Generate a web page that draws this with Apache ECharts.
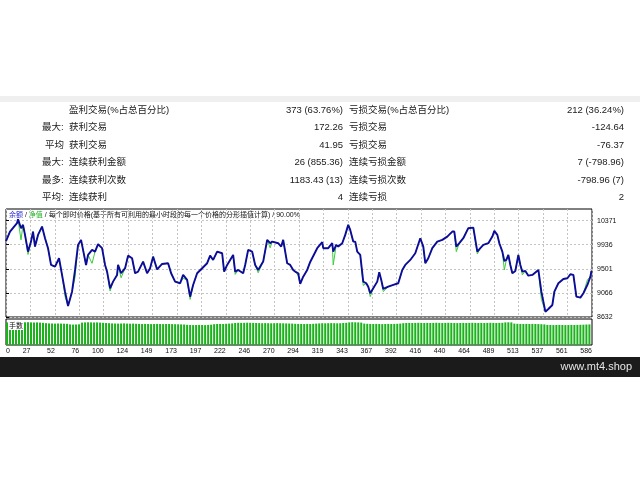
<!DOCTYPE html>
<html><head><meta charset="utf-8">
<script src="https://cdn.jsdelivr.net/npm/echarts@6/dist/echarts.min.js"></script>
<style>html,body{margin:0;padding:0;background:#fff;}#c{width:640px;height:480px;}</style>
</head><body><div id="c"></div>
<script>
// ---- data ----
const balTrades = [
0,4,11,12,15,17,19,22,25,27,
29,32,36,39,42,45,49,53,56,59,
62,66,69,72,75,77,80,82,86,89,
92,96,99,101,104,107,111,112,115,119,
122,126,129,132,137,141,144,147,151,156,
162,165,169,174,177,181,184,187,191,196,
201,204,207,211,216,218,221,224,227,229,
232,237,239,242,246,249,252,257,261,264,
266,272,275,277,279,281,284,287,289,292,
294,297,301,304,311,316,317,322,326,327,
330,332,336,339,342,344,347,349,351,354,
357,360,362,364,367,371,373,375,377,382,
387,392,396,399,404,409,414,417,419,422,
426,431,436,441,446,448,450,453,457,462,
467,471,474,477,482,486,488,491,493,496,
498,500,502,504,506,509,512,514,516,519,
522,526,532,535,539,542,546,548,552,557,
561,564,567,570,574,577,581,584,585];
const balValues = [
10000,10173,10324,10396,10234,10294,10113,9811,9992,10173,
9902,10113,10263,10053,9873,9571,9540,9692,9391,9089,
8831,9089,9481,9932,10023,9842,9571,9752,9842,9811,
9945,9873,9571,9450,9150,9270,9391,9571,9421,9512,
9739,9692,9421,9450,9631,9421,9512,9721,9490,9589,
9602,9421,9270,9241,9391,9300,8999,9210,9421,9512,
9602,9739,9661,9811,9782,9450,9571,9661,9752,9450,
9481,9421,9571,9842,9811,9571,9481,9631,10023,9963,
9992,9963,9902,10023,9811,9602,9571,9481,9450,9421,
9230,9360,9481,9625,9873,9981,9873,9873,9963,9811,
9932,9902,9963,10113,10294,10203,9992,9992,9811,9752,
9270,9241,9179,9060,9150,9270,9439,9300,9138,9179,
9210,9241,9481,9571,9661,9782,10053,9902,9602,9692,
9873,9992,10023,10082,10173,10173,9902,9963,10053,10234,
10245,9811,9873,9932,9963,10082,10185,10113,9963,9811,
9643,9661,9752,9571,9421,9463,9752,9571,9450,9463,
9378,9391,9481,9089,8728,8776,8849,9089,9241,9318,
9331,9403,9391,8999,8981,9060,9210,9360,9463];
const eqValues = [
10000,10173,10324,10396,10023,10294,10113,9760,9992,10173,
9902,10113,10263,10053,9873,9571,9540,9692,9391,9000,
8831,9089,9350,9932,10023,9842,9571,9752,9600,9811,
9945,9873,9571,9450,9100,9270,9391,9571,9340,9512,
9739,9692,9421,9450,9631,9421,9512,9721,9490,9589,
9602,9421,9270,9241,9330,9300,8950,9210,9421,9512,
9602,9739,9661,9811,9782,9450,9571,9661,9752,9400,
9481,9421,9571,9842,9811,9571,9430,9631,10023,9880,
9992,9963,9902,10023,9811,9602,9571,9481,9450,9380,
9230,9360,9481,9625,9873,9981,9873,9873,9963,9571,
9932,9902,9963,10113,10294,10203,9992,9992,9811,9752,
9200,9241,9179,9000,9150,9270,9439,9300,9090,9179,
9210,9241,9481,9571,9661,9782,10053,9902,9602,9692,
9873,9992,10023,10082,10173,10173,9811,9963,10053,10234,
10245,9770,9873,9932,9963,10082,10185,10113,9963,9811,
9481,9661,9752,9571,9421,9463,9752,9571,9391,9463,
9378,9391,9481,8950,8728,8776,8849,9089,9241,9318,
9331,9403,9391,8999,8981,9060,9300,9360,9463];
const volumes = [
0.226,0.227,0.226,0.228,0.227,0.226,0.227,0.228,0.226,0.225,0.226,0.224,0.222,
0.218,0.216,0.215,0.214,0.215,0.214,0.213,0.212,
0.206,0.204,0.205,0.207,
0.224,0.226,0.227,0.226,0.225,0.226,0.224,0.222,0.22,0.218,
0.216,0.215,0.214,0.215,0.216,0.214,0.213,0.214,0.212,0.211,
0.21,0.211,0.21,0.209,0.21,0.211,0.21,0.209,0.21,0.21,0.209,0.208,0.207,0.206,0.205,
0.202,0.2,0.199,0.2,0.201,0.2,0.199,0.201,0.203,
0.208,0.21,0.211,0.21,0.212,0.214,0.216,
0.22,0.222,0.221,0.222,0.223,0.222,0.221,0.22,0.219,
0.218,0.219,0.218,0.217,0.218,0.219,0.218,0.217,0.216,0.215,0.214,
0.212,0.211,0.21,0.21,0.211,0.21,0.212,0.214,0.216,
0.218,0.217,0.218,0.219,0.218,0.217,0.218,0.22,0.222,
0.226,0.228,0.227,0.226,0.224,
0.214,0.212,0.211,0.21,0.211,0.21,0.209,0.21,0.211,0.21,0.211,0.212,0.214,
0.218,0.22,0.221,0.22,0.221,0.222,0.221,0.22,0.221,0.22,0.221,0.222,0.221,0.22,0.221,0.222,0.221,
0.22,0.219,0.22,0.221,0.22,0.221,0.222,0.221,0.22,0.221,0.22,0.221,0.222,0.221,0.22,0.221,0.222,
0.226,0.227,0.226,
0.214,0.212,0.211,0.21,0.211,0.21,0.211,0.21,0.209,0.208,0.206,
0.201,0.2,0.199,0.2,0.201,0.2,0.199,0.2,0.201,0.2,0.201,0.202,0.203,
0.205,0.206];
const xTickLabels = ['0','27','52','76','100','124','149','173','197','222','246','270','294','319','343','367','392','416','440','464','489','513','537','561','586'];
const yTickValues = [8632,9066,9501,9936,10371];
const statPrefix = ['', '最大:', '平均', '最大:', '最多:', '平均:'];
const statNameL = ['盈利交易(%占总百分比)','获利交易','获利交易','连续获利金额','连续获利次数','连续获利'];
const statValL = ['373 (63.76%)','172.26','41.95','26 (855.36)','1183.43 (13)','4'];
const statNameR = ['亏损交易(%占总百分比)','亏损交易','亏损交易','连续亏损金额','连续亏损次数','连续亏损'];
const statValR = ['212 (36.24%)','-124.64','-76.37','7 (-798.96)','-798.96 (7)','2'];
const legendTxt = '{b|余额} / {g|净值} / 每个即时价格(基于所有可利用的最小时段的每一个价格的分形插值计算) / 90.00%';
const volLabel = '手数';
const siteTxt = 'www.mt4.shop';

// ---- chart ----
const FF = '"Liberation Sans","Noto Sans CJK SC",sans-serif';
const chart = echarts.init(document.getElementById('c'), null, {renderer:'canvas'});
const XI = 24.4, XMAX = 585.6;
const graphics = [
  {type:'rect', shape:{x:0,y:96,width:640,height:6}, style:{fill:'#efefef'}, silent:true},
  {type:'rect', shape:{x:0,y:357,width:640,height:20}, style:{fill:'#1b1b1b'}, silent:true},
  {type:'text', style:{text:siteTxt, x:632, y:367, align:'right', verticalAlign:'middle', font:'11px "Liberation Sans",sans-serif', fill:'#e6e6e6'}},
  {type:'text', style:{text:legendTxt, x:9, y:215, verticalAlign:'middle', font:'7px '+FF, fill:'#111',
     rich:{b:{fill:'#2b2bd0', font:'7px '+FF}, g:{fill:'#22b022', font:'7px '+FF}}}},
  {type:'rect', shape:{x:8,y:321,width:16,height:9}, style:{fill:'#fff'}, z:50},
  {type:'text', style:{text:volLabel, x:9, y:326, verticalAlign:'middle', font:'7px '+FF, fill:'#111'}, z:51}
];
const rowY = [110,127.5,145,162.5,180,197];
for (let i=0;i<6;i++){
  const y=rowY[i];
  if (statPrefix[i]) graphics.push({type:'text', style:{text:statPrefix[i], x:(statPrefix[i].length===2?45:42), y, verticalAlign:'middle', font:'9.5px '+FF, fill:'#1a1a1a'}});
  graphics.push({type:'text', style:{text:statNameL[i], x:69, y, verticalAlign:'middle', font:'9.5px '+FF, fill:'#1a1a1a'}});
  graphics.push({type:'text', style:{text:statValL[i], x:343, y, align:'right', verticalAlign:'middle', font:'9.5px '+FF, fill:'#1a1a1a'}});
  graphics.push({type:'text', style:{text:statNameR[i], x:349, y, verticalAlign:'middle', font:'9.5px '+FF, fill:'#1a1a1a'}});
  graphics.push({type:'text', style:{text:statValR[i], x:624, y, align:'right', verticalAlign:'middle', font:'9.5px '+FF, fill:'#1a1a1a'}});
}
const grid = {show:true, borderColor:'#000', borderWidth:1, backgroundColor:'transparent'};
chart.setOption({
  animation:false,
  backgroundColor:'#fff',
  grid:[
    Object.assign({left:6, top:209, width:586, height:108}, grid),
    Object.assign({left:6, top:319, width:586, height:26}, grid)
  ],
  xAxis:[
    {type:'value', gridIndex:0, min:0, max:XMAX, interval:XI,
     axisLine:{show:false}, axisTick:{show:false}, axisLabel:{show:false},
     splitLine:{show:true, lineStyle:{color:'#c4c4c4', type:[2,2], width:1}}},
    {type:'value', gridIndex:1, min:0, max:XMAX, interval:XI,
     axisLine:{show:false}, axisTick:{show:false}, splitLine:{show:false},
     axisLabel:{show:true, fontSize:7, fontFamily:'Liberation Sans', color:'#111', margin:3, align:'right',
       alignMinLabel:'left', alignMaxLabel:'right', showMinLabel:true, showMaxLabel:true,
       formatter:(v)=>xTickLabels[Math.round(v/XI)] || ''}}
  ],
  yAxis:[
    {type:'value', gridIndex:0, position:'right', min:8632, max:10580,
     axisLine:{show:false},
     axisTick:{show:true, length:3, customValues:yTickValues, lineStyle:{color:'#000'}},
     axisLabel:{show:true, customValues:yTickValues, fontSize:7, fontFamily:'Liberation Sans', color:'#111', margin:5,
       formatter:(v)=>String(Math.round(v))},
     splitLine:{show:true, lineStyle:{color:'#c4c4c4', type:[2,2], width:1}}},
    {type:'value', gridIndex:1, min:0, max:0.26, show:false, splitLine:{show:false}}
  ],
  series:[
    {type:'bar', xAxisIndex:1, yAxisIndex:1, barWidth:2,
     data:volumes.map((v,i)=>[1+3*i, v]), itemStyle:{color:'#1bb21b'}, silent:true},
    {type:'line', xAxisIndex:0, yAxisIndex:0, symbol:'none', silent:true,
     data:balTrades.map((t,i)=>[t, eqValues[i]]), lineStyle:{color:'#3ccc3c', width:1}},
    {type:'line', xAxisIndex:0, yAxisIndex:0, symbol:'none', silent:true,
     data:balTrades.map((t,i)=>[t, balValues[i]]), lineStyle:{color:'#0c0c99', width:1.9}}
  ],
  graphic:graphics
});
</script></body></html>
